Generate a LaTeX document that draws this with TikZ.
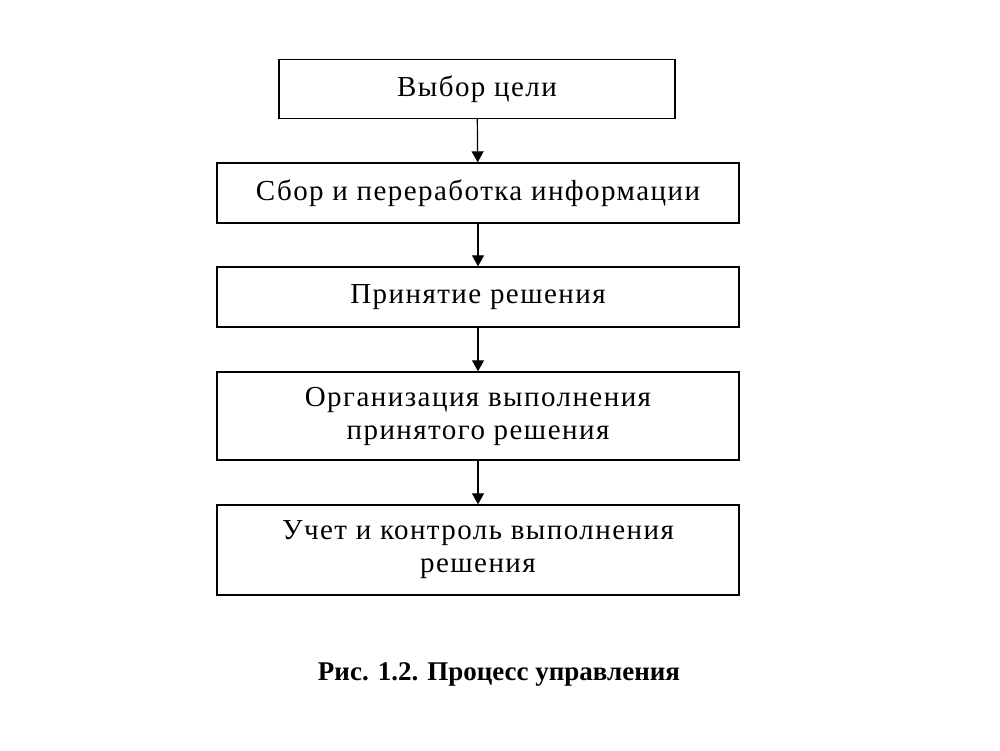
\documentclass[tikz,border=0pt]{standalone}
\usepackage{fontspec}
\setmainfont{Liberation Serif}
\usetikzlibrary{arrows.meta}

\begin{document}
\begin{tikzpicture}[x=1pt,y=-1pt,
  stage/.style={draw, line width=1.4pt, minimum width=522pt, minimum height=60pt,
    inner sep=0pt, align=center, font=\fontsize{29}{33}\selectfont\addfontfeatures{LetterSpace=5}},
  flow/.style={-{Triangle[length=11pt,width=12pt]}, line width=1.2pt}]

\useasboundingbox[fill=white] (0,0) rectangle (1000,750);

\node[stage, minimum width=396pt, minimum height=59pt] (goal) at (477, 89) {Выбор цели};
\node[stage] (collect) at (478, 193) {Сбор и переработка информации};
\node[stage] (decide) at (478, 297) {Принятие решения};
\node[stage, minimum height=88pt] (organize) at (478, 416) {Организация выполнения\\принятого решения};
\node[stage, minimum height=90pt] (control) at (478, 550) {Учет и контроль выполнения\\решения};

\node[font=\fontsize{27}{30}\selectfont\bfseries] (caption) at (499, 674) {Рис. 1.2. Процесс управления};

\draw[flow] (goal) -- (collect);
\draw[flow] (collect) -- (decide);
\draw[flow] (decide) -- (organize);
\draw[flow] (organize) -- (control);

\end{tikzpicture}
\end{document}
